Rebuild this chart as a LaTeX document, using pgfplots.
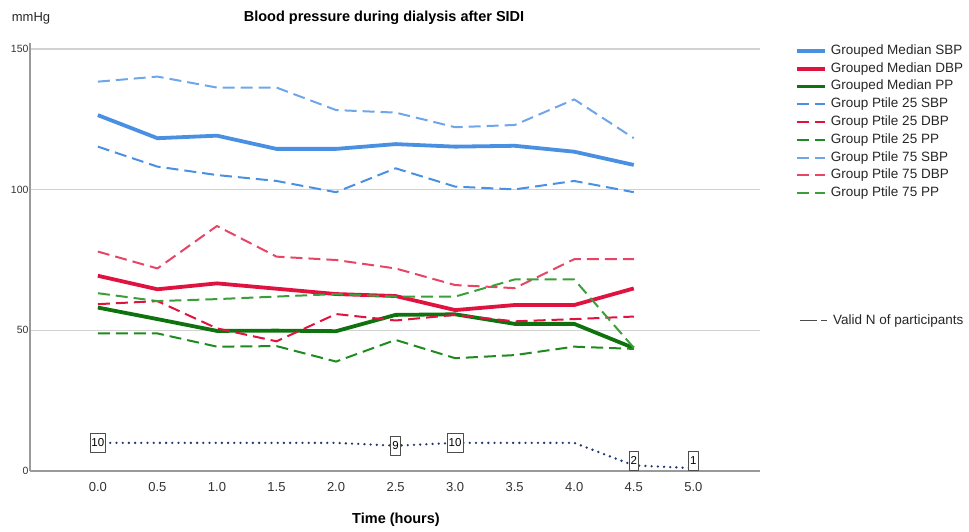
\documentclass[border=0pt]{standalone}
\usepackage{fontspec}
\setmainfont{Liberation Sans}
\usepackage{pgfplots}
\pgfplotsset{compat=1.18}
\definecolor{sbp}{HTML}{4A90E2}
\definecolor{sbpl}{HTML}{6FA6EA}
\definecolor{dbp}{HTML}{E0123F}
\definecolor{dbpl}{HTML}{E84466}
\definecolor{ppm}{HTML}{0E720E}
\definecolor{ppd}{HTML}{1F8A1F}
\definecolor{ppl}{HTML}{3A9E3A}
\definecolor{navyN}{HTML}{1F3A6E}
\definecolor{gridc}{HTML}{D2D2D2}
\definecolor{axc}{HTML}{9A9A9A}
\begin{document}
\begin{tikzpicture}
\path[use as bounding box] (0pt,0pt) rectangle (969pt,531pt);
\begin{axis}[
  at={(30pt,60pt)}, anchor=south west,
  scale only axis, width=730pt, height=427.6pt,
  xmin=-0.57, xmax=5.56, ymin=0, ymax=152,
  axis x line=bottom, axis y line=left,
  axis line style={-, axc, line width=1.2pt},
  xtick={0,0.5,1,1.5,2,2.5,3,3.5,4,4.5,5},
  xticklabels={0.0,0.5,1.0,1.5,2.0,2.5,3.0,3.5,4.0,4.5,5.0},
  ytick={0,50,100,150},
  ymajorgrids, grid style={gridc, line width=1.5pt},
  major tick length=0pt,
  /pgf/number format/assume math mode=true,
  xticklabel style={font=\fontsize{13}{15}\selectfont, text=black!80, yshift=-8pt},
  yticklabel style={font=\fontsize{10.5}{12}\selectfont, text=black!80, xshift=2pt},
  clip=false,
  line join=round,
  legend cell align=left,
  legend image code/.code={\draw[#1] (0pt,0pt) -- (28pt,0pt);},
  legend style={at={(axis description cs:1.0475,0.9977)}, anchor=north west,
    draw=none, fill=none, inner sep=0pt, outer sep=0pt,
    font=\fontsize{13.5}{14}\selectfont, text=black!85,
    row sep=4.8pt, nodes={inner sep=0pt, text height=10pt, text depth=3pt},
    /tikz/every odd column/.append style={column sep=4.5pt}},
]
% Valid N (dotted)
\addplot[navyN, line width=2.6pt, dash pattern=on 0pt off 6.2pt, line cap=round, forget plot]
  coordinates {(0,10)(0.5,10)(1,10)(1.5,10)(2,10)(2.5,9)(3,10)(3.5,10)(4,10)(4.5,2)(5,1)};
% Medians
\addplot[sbp, line width=3.8pt] coordinates {(0,126.5)(0.5,118.3)(1,119.2)(1.5,114.5)(2,114.5)(2.5,116.2)(3,115.3)(3.5,115.6)(4,113.5)(4.5,108.8)};
\addlegendentry{Grouped Median SBP}
\addplot[dbp, line width=3.8pt] coordinates {(0,69.4)(0.5,64.6)(1,66.7)(1.5,64.8)(2,62.9)(2.5,62.2)(3,57.2)(3.5,59.0)(4,59.0)(4.5,64.9)};
\addlegendentry{Grouped Median DBP}
\addplot[ppm, line width=3.8pt] coordinates {(0,58.1)(0.5,54.0)(1,49.8)(1.5,49.9)(2,49.7)(2.5,55.5)(3,55.7)(3.5,52.3)(4,52.3)(4.5,43.7)};
\addlegendentry{Grouped Median PP}
% Percentile 25
\addplot[sbp, line width=2pt, dash pattern=on 12pt off 6pt] coordinates {(0,115.3)(0.5,108.2)(1,105.2)(1.5,103.1)(2,99.1)(2.5,107.6)(3,101.1)(3.5,100.1)(4,103.1)(4.5,99.1)};
\addlegendentry{Group Ptile 25 SBP}
\addplot[dbp, line width=2pt, dash pattern=on 12pt off 6pt] coordinates {(0,59.3)(0.5,60.4)(1,50.7)(1.5,46.1)(2,55.8)(2.5,53.5)(3,55.5)(3.5,53.2)(4,54.0)(4.5,54.9)};
\addlegendentry{Group Ptile 25 DBP}
\addplot[ppd, line width=2pt, dash pattern=on 12pt off 6pt] coordinates {(0,48.9)(0.5,48.9)(1,44.2)(1.5,44.4)(2,38.9)(2.5,46.6)(3,40.1)(3.5,41.2)(4,44.2)(4.5,43.4)};
\addlegendentry{Group Ptile 25 PP}
% Percentile 75
\addplot[sbpl, line width=2pt, dash pattern=on 12pt off 6pt] coordinates {(0,138.4)(0.5,140.2)(1,136.3)(1.5,136.3)(2,128.3)(2.5,127.4)(3,122.2)(3.5,123.0)(4,132.1)(4.5,118.3)};
\addlegendentry{Group Ptile 75 SBP}
\addplot[dbpl, line width=2pt, dash pattern=on 12pt off 6pt] coordinates {(0,78.0)(0.5,72.0)(1,87.1)(1.5,76.2)(2,75.0)(2.5,72.0)(3,66.1)(3.5,65.0)(4,75.3)(4.5,75.3)};
\addlegendentry{Group Ptile 75 DBP}
\addplot[ppl, line width=2pt, dash pattern=on 12pt off 6pt] coordinates {(0,63.2)(0.5,60.4)(1,61.1)(1.5,62.0)(2,62.9)(2.5,62.0)(3,62.0)(3.5,68.1)(4,68.1)(4.5,43.8)};
\addlegendentry{Group Ptile 75 PP}
% N labels
\addplot[draw=none, mark=none, forget plot, nodes near coords, point meta=explicit symbolic,
  every node near coord/.style={draw=black!70, fill=white, line width=0.8pt, font=\fontsize{11.5}{12}\selectfont,
    inner xsep=1.5pt, inner ysep=0pt, minimum height=19pt, anchor=center}]
  coordinates {(0,10)[10] (2.5,9)[9] (3,10)[10]};
\addplot[draw=none, mark=none, forget plot, nodes near coords, point meta=explicit symbolic,
  every node near coord/.style={draw=black!70, fill=white, line width=0.8pt, font=\fontsize{11.5}{12}\selectfont,
    inner xsep=1.5pt, inner ysep=0pt, minimum height=19pt, anchor=south, yshift=-5.3pt}]
  coordinates {(4.5,2)[2]};
\addplot[draw=none, mark=none, forget plot, nodes near coords, point meta=explicit symbolic,
  every node near coord/.style={draw=black!70, fill=white, line width=0.8pt, font=\fontsize{11.5}{12}\selectfont,
    inner xsep=1.5pt, inner ysep=0pt, minimum height=19pt, anchor=south, yshift=-2.5pt}]
  coordinates {(5,1)[1]};
\end{axis}
% titles and labels
\node[font=\bfseries\fontsize{14.5}{16}\selectfont] at (384pt,513pt) {Blood pressure during dialysis after SIDI};
\node[font=\fontsize{13}{14}\selectfont, text=black!85] at (31pt,513pt) {mmHg};
\node[font=\bfseries\fontsize{14.5}{16}\selectfont] at (396pt,11pt) {Time (hours)};
% legend entry for Valid N
\draw[black!70, line width=1.5pt] (800pt,210.3pt) -- (817pt,210.3pt) (821pt,210.3pt) -- (827pt,210.3pt);
\node[anchor=west, inner sep=0pt, font=\fontsize{13.5}{14}\selectfont, text=black!85] at (833pt,210.3pt) {Valid N of participants};
\end{tikzpicture}
\end{document}
